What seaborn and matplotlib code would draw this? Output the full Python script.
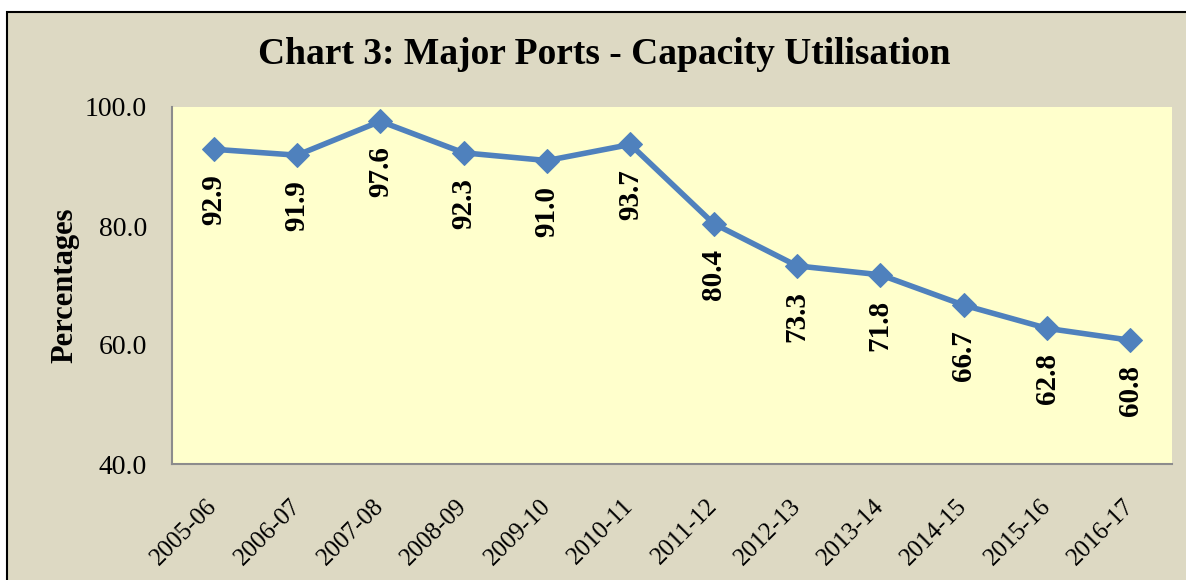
import matplotlib
matplotlib.use('Agg')
import matplotlib.pyplot as plt
import matplotlib.patches as mpatches
import matplotlib.transforms as mtransforms
import pandas as pd
import seaborn as sns

# data
years = ['2005-06', '2006-07', '2007-08', '2008-09', '2009-10', '2010-11',
         '2011-12', '2012-13', '2013-14', '2014-15', '2015-16', '2016-17']
utilisation = [92.9, 91.9, 97.6, 92.3, 91.0, 93.7,
               80.4, 73.3, 71.8, 66.7, 62.8, 60.8]
y_ticks = [40.0, 60.0, 80.0, 100.0]

df = pd.DataFrame({'year': years, 'util': utilisation})

sns.set_style('white')
plt.rcParams['font.family'] = ['Liberation Serif', 'DejaVu Serif']
plt.rcParams['text.color'] = 'black'
plt.rcParams['axes.labelcolor'] = 'black'
plt.rcParams['xtick.color'] = 'black'
plt.rcParams['ytick.color'] = 'black'

bg = '#DDD9C3'
plot_bg = '#FFFFCC'
line_col = '#4F81BD'

fig = plt.figure(figsize=(11.86, 5.80), dpi=100)
fig.patch.set_facecolor('white')
# outer chart frame
fig.patches.append(mpatches.Rectangle((6.5 / 1186, -0.05), 1.1, 1 - 11.5 / 580 + 0.05,
                                      transform=fig.transFigure, facecolor=bg,
                                      edgecolor='black', linewidth=1.5, zorder=-10))

ax = fig.add_axes([172 / 1186, 1 - 464 / 580, 1000 / 1186, (464 - 107) / 580])
ax.set_facecolor(plot_bg)

sns.lineplot(data=df, x='year', y='util', ax=ax, color=line_col, linewidth=4,
             marker='D', markersize=12, markeredgecolor=line_col, sort=False)

for i, v in enumerate(utilisation):
    ax.annotate(f'{v:.1f}', xy=(i, v), xytext=(0, -18), textcoords='offset points',
                rotation=90, ha='center', va='top', fontsize=21, fontweight='bold',
                color='black')

ax.set_xlim(-0.5, len(years) - 0.5)
ax.set_ylim(40, 100)
ax.set_yticks(y_ticks)
ax.set_yticklabels([f'{t:.1f}' for t in y_ticks], fontsize=20)
ax.set_xticks(range(len(years)))
ax.set_xticklabels(years, rotation=45, ha='right', va='center', rotation_mode='anchor',
                   fontsize=18)
# nudge the slanted labels a little to the right
shift = mtransforms.ScaledTranslation(6 / 100, 0, fig.dpi_scale_trans)
for lab in ax.get_xticklabels():
    lab.set_transform(lab.get_transform() + shift)
ax.tick_params(axis='y', length=0, pad=18)
ax.tick_params(axis='x', length=0, pad=28)
ax.set_xlabel('')
ax.set_ylabel('Percentages', fontsize=22, fontweight='bold', labelpad=4)

for side in ['top', 'right']:
    ax.spines[side].set_visible(False)
for side in ['left', 'bottom']:
    ax.spines[side].set_color('#8C8C8C')
    ax.spines[side].set_linewidth(1.5)

fig.text(604 / 1186, 1 - 55 / 580, 'Chart 3: Major Ports - Capacity Utilisation',
         ha='center', va='center', fontsize=27, fontweight='bold')

plt.savefig('out.png', dpi=100, facecolor=fig.get_facecolor())
